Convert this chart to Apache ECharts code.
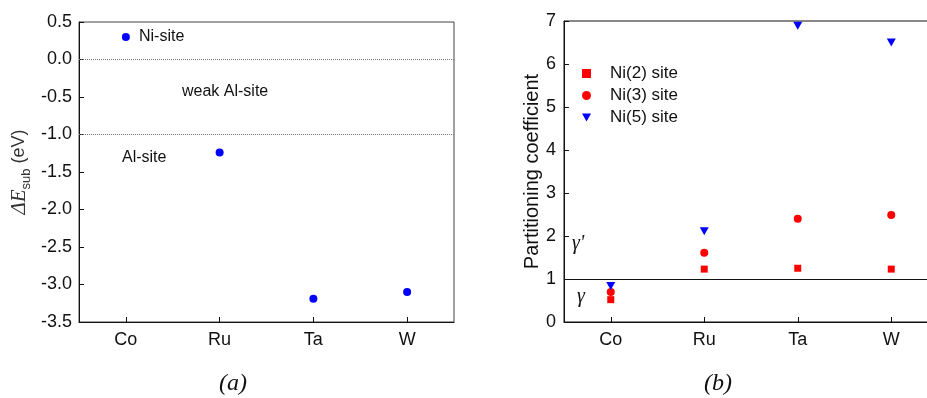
<!DOCTYPE html>
<html>
<head>
<meta charset="utf-8">
<script src="https://cdn.jsdelivr.net/npm/echarts@6/dist/echarts.min.js"></script>
<style>
  html, body { margin: 0; padding: 0; background: #fff; overflow: hidden; }
  /* the right panel's frame runs past the window edge, so the canvas is a bit wider */
  #chart { width: 950px; height: 398px; }
</style>
</head>
<body>
<div id="chart"></div>
<script>
// elements on the x axis of both panels
const elements = ['Co', 'Ru', 'Ta', 'W'];

// (a) substitution energy, eV
const deltaE = [0.3, -1.24, -3.19, -3.1];
const energyTicks = { min: -3.5, max: 0.5, interval: 0.5 };
const siteBounds = [0, -1];

// (b) partitioning coefficient per Ni site
const ni2Site = [0.52, 1.23, 1.25, 1.23];
const ni3Site = [0.70, 1.61, 2.40, 2.49];
const ni5Site = [0.84, 2.11, 6.89, 6.50];
const coeffTicks = { min: 0, max: 7, interval: 1 };
const phaseBound = 1;

const SANS = '"Liberation Sans", Arial, sans-serif';
const SERIF = '"Liberation Serif", "Times New Roman", serif';
const INK = '#111';
const triDown = 'path://M0,0L10,0L5,8.66Z';

const chart = echarts.init(document.getElementById('chart'), null, { renderer: 'canvas' });

const axisCommon = {
  axisLine: { show: true, onZero: false, lineStyle: { color: INK, width: 1 } },
  axisTick: { show: true, inside: true, length: 5, lineStyle: { color: INK } },
  splitLine: { show: false },
};

const catAxis = (gridIndex) => ({
  ...axisCommon, gridIndex, type: 'category', data: elements, boundaryGap: true,
  axisTick: { ...axisCommon.axisTick, alignWithLabel: true },
  axisLabel: { fontFamily: SANS, fontSize: 18, color: INK, margin: 9 },
});

const option = {
  animation: false,
  backgroundColor: '#fff',
  grid: [
    { left: 79, top: 22, width: 375, height: 300, show: true, borderColor: '#444', borderWidth: 1, backgroundColor: 'transparent' },
    { left: 564, top: 21, width: 374, height: 301, show: true, borderColor: INK, borderWidth: 1, backgroundColor: 'transparent' },
  ],
  xAxis: [catAxis(0), catAxis(1)],
  yAxis: [
    {
      ...axisCommon, gridIndex: 0, type: 'value', ...energyTicks,
      axisLabel: { fontFamily: SANS, fontSize: 18, color: INK, margin: 7, formatter: v => v.toFixed(1) },
      name: '{d|Δ}{e|E}{s|sub}{n| (eV)}',
      nameLocation: 'middle', nameRotate: 90, nameGap: 46,
      nameTextStyle: {
        color: '#333',
        rich: {
          d: { fontFamily: SERIF, fontStyle: 'italic', fontSize: 21, color: '#333' },
          e: { fontFamily: SERIF, fontStyle: 'italic', fontSize: 21, color: '#333' },
          s: { fontFamily: SANS, fontSize: 13, color: '#333', padding: [14, 0, 0, 0] },
          n: { fontFamily: SANS, fontSize: 18, color: '#333' },
        },
      },
    },
    {
      ...axisCommon, gridIndex: 1, type: 'value', ...coeffTicks,
      axisLabel: { fontFamily: SANS, fontSize: 18, color: INK, margin: 8 },
      name: 'Partitioning coefficient',
      nameLocation: 'middle', nameRotate: 90, nameGap: 22,
      nameTextStyle: { fontFamily: SANS, fontSize: 20, color: INK },
    },
  ],
  legend: {
    show: true,
    orient: 'vertical',
    left: 577, top: 60,
    itemWidth: 9, itemHeight: 9, itemGap: 5,
    textStyle: { fontFamily: SANS, fontSize: 17, color: INK, padding: [0, 0, 0, 14] },
    data: [
      { name: 'Ni(2) site', icon: 'rect' },
      { name: 'Ni(3) site', icon: 'circle' },
      { name: 'Ni(5) site', icon: triDown },
    ],
  },
  series: [
    {
      name: 'deltaE', type: 'scatter', xAxisIndex: 0, yAxisIndex: 0,
      data: deltaE, symbol: 'circle', symbolSize: 8,
      itemStyle: { color: '#0000ff', opacity: 1 },
      markLine: {
        silent: true, symbol: 'none', label: { show: false },
        lineStyle: { type: 'dotted', color: '#777', width: 1 },
        data: siteBounds.map(v => ({ yAxis: v })),
      },
    },
    {
      name: 'Ni(2) site', type: 'scatter', xAxisIndex: 1, yAxisIndex: 1,
      data: ni2Site, symbol: 'rect', symbolSize: 7,
      itemStyle: { color: '#ff0000', opacity: 1 },
      markLine: {
        silent: true, symbol: 'none', label: { show: false },
        lineStyle: { type: 'solid', color: INK, width: 1.2 },
        data: [{ yAxis: phaseBound }],
      },
    },
    {
      name: 'Ni(3) site', type: 'scatter', xAxisIndex: 1, yAxisIndex: 1,
      data: ni3Site, symbol: 'circle', symbolSize: 8,
      itemStyle: { color: '#ff0000', opacity: 1 },
    },
    {
      name: 'Ni(5) site', type: 'scatter', xAxisIndex: 1, yAxisIndex: 1,
      data: ni5Site, symbol: triDown, symbolSize: [9, 8],
      itemStyle: { color: '#0000ff', opacity: 1 },
    },
  ],
  graphic: [
    { type: 'text', left: 139, top: 29, style: { text: 'Ni-site', fontFamily: SANS, fontSize: 16, fill: INK } },
    { type: 'text', left: 182, top: 84, style: { text: 'weak Al-site', fontFamily: SANS, fontSize: 16, fill: INK } },
    { type: 'text', left: 122, top: 150, style: { text: 'Al-site', fontFamily: SANS, fontSize: 16, fill: INK } },
    { type: 'text', left: 572, top: 234, style: { text: "γ'", fontFamily: SERIF, fontStyle: 'italic', fontSize: 20, fill: INK } },
    { type: 'text', left: 577, top: 287, style: { text: 'γ', fontFamily: SERIF, fontStyle: 'italic', fontSize: 20, fill: INK } },
    { type: 'text', left: 219, top: 372, style: { text: '(a)', fontFamily: SERIF, fontStyle: 'italic', fontSize: 24, fill: INK } },
    { type: 'text', left: 704, top: 372, style: { text: '(b)', fontFamily: SERIF, fontStyle: 'italic', fontSize: 24, fill: INK } },
  ],
};

chart.setOption(option);
</script>
</body>
</html>
